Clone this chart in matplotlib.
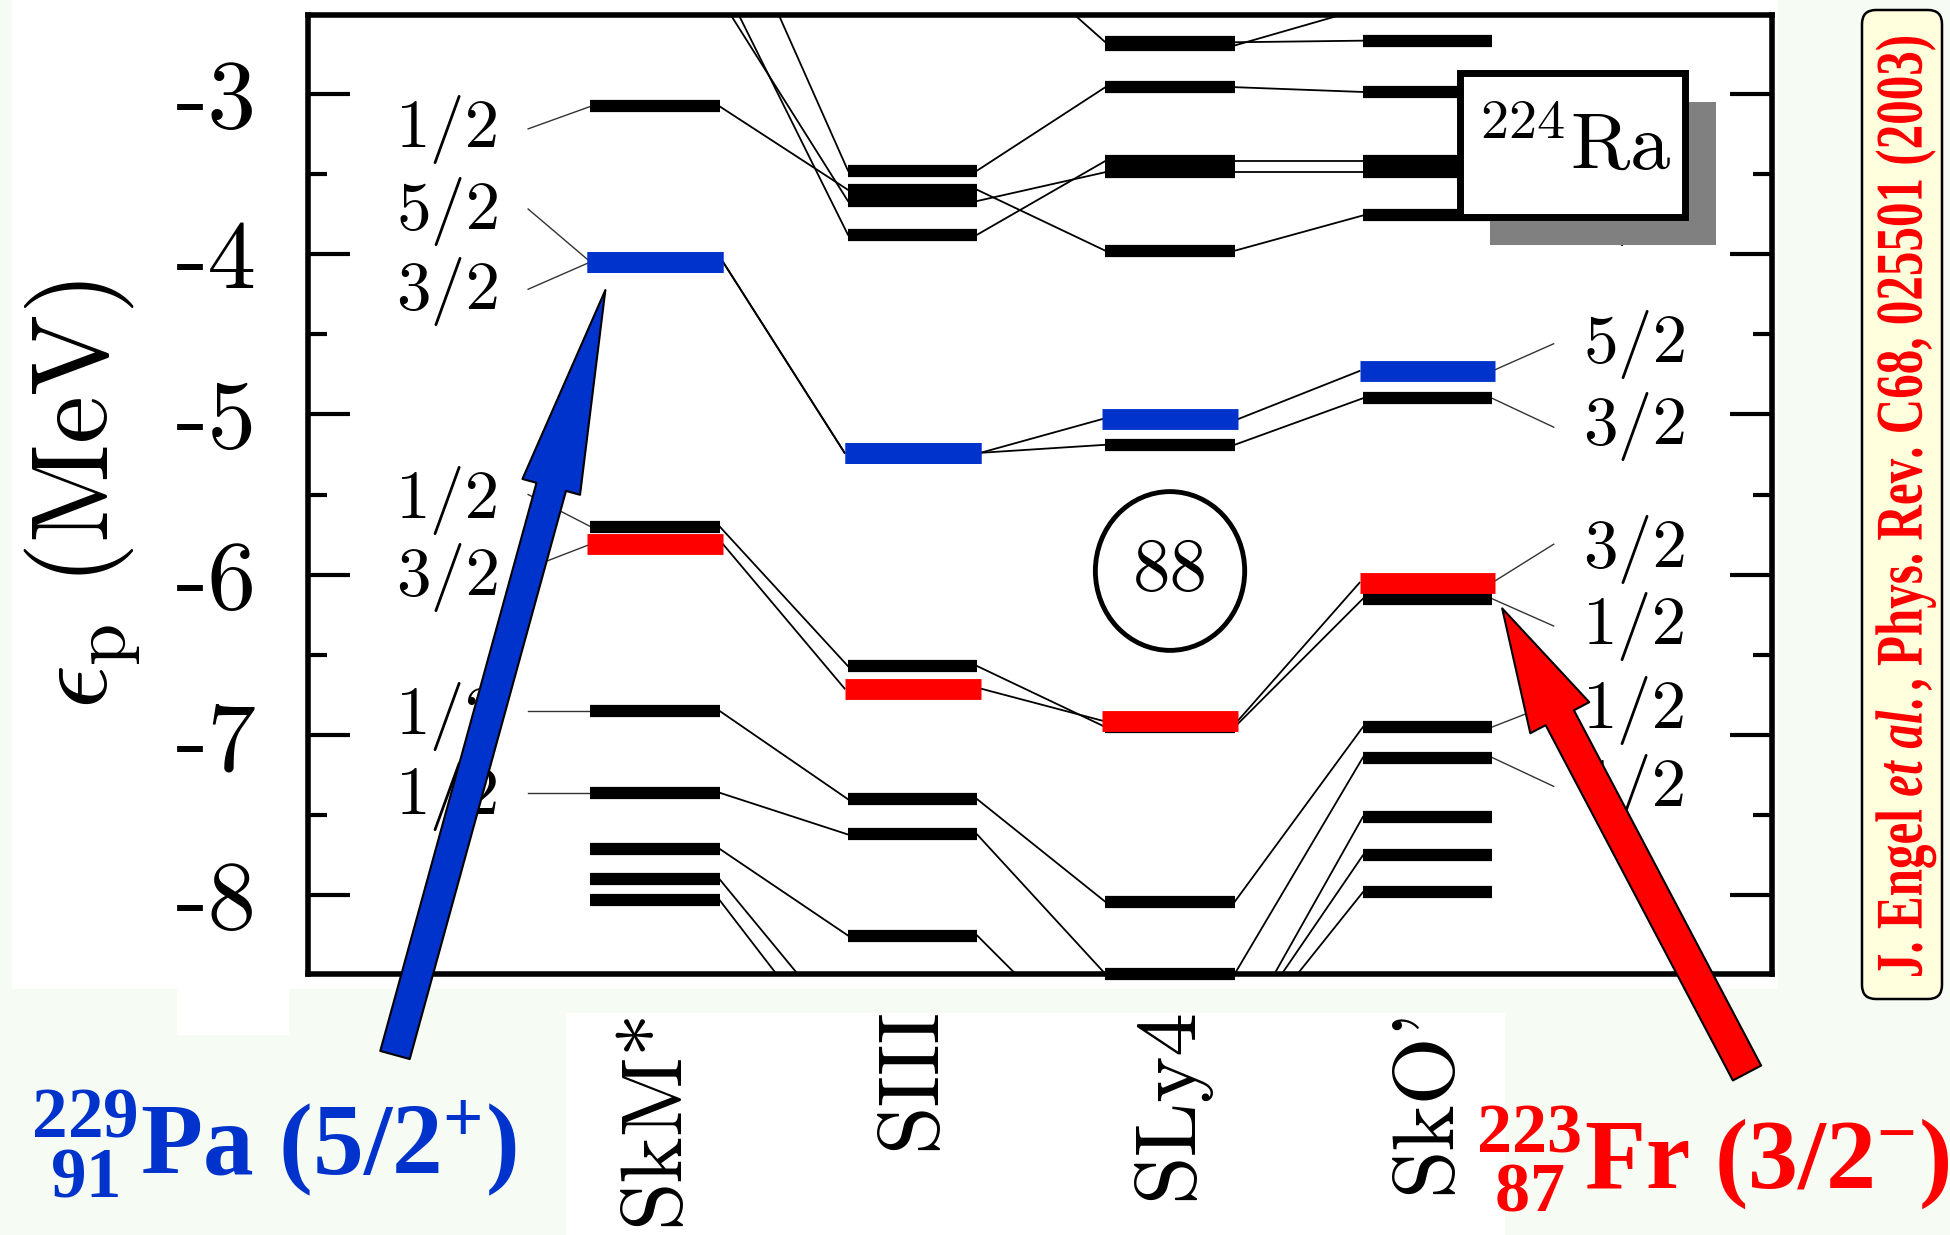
import matplotlib.pyplot as plt
from matplotlib.patches import Rectangle, Ellipse, FancyBboxPatch, PathPatch
from matplotlib.textpath import TextPath
from matplotlib.font_manager import FontProperties
from matplotlib.transforms import Affine2D
from matplotlib.ticker import MultipleLocator

plt.rcParams['mathtext.fontset'] = 'cm'
plt.rcParams['mathtext.rm'] = 'Liberation Serif:bold'
plt.rcParams['mathtext.it'] = 'Liberation Serif:italic:bold'
plt.rcParams['mathtext.bf'] = 'Liberation Serif:bold'
plt.rcParams['axes.unicode_minus'] = False

W, H = 1950, 1235
BLUE, RED = '#0033cc', '#ff0000'

forces = ['SkM*', 'SIII', 'SLy4', "SkO'"]

# proton single-particle levels (MeV), colour key k/b/r
# levels outside the window only feed the connecting lines
skm_e = [-1.68, -2.27, -2.40, -3.08, -4.05, -4.05, -5.70, -5.81, -6.85, -7.36, -7.71, -7.90, -8.03]
skm_c = ['k', 'k', 'k', 'k', 'b', 'b', 'k', 'r', 'k', 'k', 'k', 'k', 'k']
siii_e = [-1.97, -3.48, -3.60, -3.67, -3.88, -5.24, -5.24, -6.57, -6.71, -7.40, -7.62, -8.25, -8.87, -9.07]
siii_c = ['k', 'k', 'k', 'k', 'k', 'b', 'b', 'k', 'r', 'k', 'k', 'k', 'k', 'k']
sly4_e = [-2.70, -2.68, -2.96, -3.42, -3.49, -3.98, -5.03, -5.19, -6.91, -6.95, -8.04, -8.49, -8.93, -8.92, -8.98, -9.05]
sly4_c = ['k', 'k', 'k', 'k', 'k', 'k', 'b', 'k', 'r', 'k', 'k', 'k', 'k', 'k', 'k', 'k']
sko_e = [-2.47, -2.67, -2.99, -3.42, -3.49, -3.76, -4.73, -4.90, -6.05, -6.15, -6.95, -7.14, -7.51, -7.75, -7.98]
sko_c = ['k', 'k', 'k', 'k', 'k', 'k', 'b', 'k', 'r', 'k', 'k', 'k', 'k', 'k', 'k']

# which level joins which in the next column
skm_siii = [(0, 1), (1, 4), (2, 3), (3, 2), (4, 5), (5, 6), (6, 7), (7, 8), (8, 9), (9, 10), (10, 11), (11, 12), (12, 13)]
siii_sly4 = [(0, 1), (1, 2), (2, 5), (3, 4), (4, 3), (5, 6), (6, 7), (7, 9), (8, 8), (9, 10), (10, 11), (11, 15)]
sly4_sko = [(i, i) for i in range(15)]

# spin labels left of SkM* and right of SkO'
left_txt = ['1/2', '5/2', '3/2', '1/2', '3/2', '1/2', '1/2']
left_txt_e = [-3.19, -3.70, -4.20, -5.50, -5.98, -6.85, -7.35]
left_lead_e = [-3.22, -3.72, -4.22, -5.50, -5.96, -6.85, -7.36]
left_bar_e = [-3.08, -4.05, -4.05, -5.70, -5.81, -6.85, -7.36]
right_txt = ['1/2', '5/2', '3/2', '3/2', '1/2', '1/2', '1/2']
right_txt_e = [-3.70, -4.53, -5.04, -5.81, -6.29, -6.81, -7.30]
right_lead_e = [-3.70, -4.56, -5.08, -5.81, -6.32, -6.80, -7.32]
right_bar_e = [-3.76, -4.73, -4.90, -6.05, -6.15, -6.95, -7.14]

ytick_vals = [-3, -4, -5, -6, -7, -8]
ytick_lab = ['-3', '-4', '-5', '-6', '-7', '-8']

levels = [skm_e, siii_e, sly4_e, sko_e]
colours = [skm_c, siii_c, sly4_c, sko_c]
links = [skm_siii, siii_sly4, sly4_sko]

fig = plt.figure(figsize=(W / 100, H / 100), dpi=100, facecolor='#f6fbf3')
px = Affine2D().scale(1 / W, 1 / H) + fig.transFigure  # pixel coords, origin bottom-left

for r in [(12, 246, 1766, 989), (177, 200, 112, 46), (566, 0, 939, 222)]:
    fig.add_artist(Rectangle(r[:2], r[2], r[3], transform=px, fc='white', ec='none', zorder=-5))

ax = fig.add_axes([308 / W, 1 - 974 / H, 1464 / W, 959 / H])
ylo, yhi = -8.49, -2.51
ax.set_xlim(-0.348, 5.338)
ax.set_ylim(ylo, yhi)

hw = {'k': 0.251, 'b': 0.264, 'r': 0.264}
lwb = {'k': 8.8, 'b': 15, 'r': 15}
cmap = {'k': 'black', 'b': BLUE, 'r': RED}

for i, (es, cs) in enumerate(zip(levels, colours)):
    for e, c in zip(es, cs):
        if ylo - 0.01 <= e <= yhi:
            ax.plot([i + 1 - hw[c], i + 1 + hw[c]], [e, e], color=cmap[c], lw=lwb[c],
                    solid_capstyle='butt', zorder=4 if c == 'k' else 5, clip_on=False)

for i, pairs in enumerate(links):
    for a, b in pairs:
        ca, cb = colours[i][a], colours[i + 1][b]
        ax.plot([i + 1 + hw[ca], i + 2 - hw[cb]], [levels[i][a], levels[i + 1][b]],
                color='black', lw=1.3, zorder=3)

for t, te, le, be in zip(left_txt, left_txt_e, left_lead_e, left_bar_e):
    ax.plot([0.507, 1 - hw['k']], [le, be], color='#333333', lw=1.0, zorder=3)
    ax.text(0.40, te - 0.145, t, fontfamily='cmr10', fontsize=50, ha='right', va='baseline')
for t, te, le, be in zip(right_txt, right_txt_e, right_lead_e, right_bar_e):
    ax.plot([4 + hw['k'], 4.49], [be, le], color='#333333', lw=1.0, zorder=3)
    ax.text(4.604, te - 0.145, t, fontfamily='cmr10', fontsize=50, ha='left', va='baseline')

# magic number 88 circle
ax.add_patch(Ellipse((3.0, -5.977), 0.58, 0.99, fill=False, ec='black', lw=3.5, zorder=6))
ax.text(3.0, -5.977, '88', fontfamily='cmr10', fontsize=54, ha='center', va='center', zorder=7)

# 224Ra box with shadow
ax.add_patch(Rectangle((4.242, -3.946), 0.879, 0.892, fc='#808080', ec='none', zorder=8))
ax.add_patch(Rectangle((4.125, -3.77), 0.876, 0.897, fc='white', ec='black', lw=5, zorder=9))
ax.text(4.57, -3.34, r'$^{224}\mathrm{Ra}$', fontsize=58, ha='center', va='center', zorder=10)

ax.set_yticks(ytick_vals, ytick_lab, fontfamily='cmr10', fontsize=70)
ax.yaxis.set_minor_locator(MultipleLocator(0.5))
ax.tick_params(axis='y', which='both', direction='in', left=True, right=True, width=3, pad=37)
ax.tick_params(axis='y', which='major', length=30)
ax.tick_params(axis='y', which='minor', length=14)
ax.set_xticks([1, 2, 3, 4], forces, rotation=90, fontfamily='cmr10', fontsize=63)
ax.tick_params(axis='x', length=0, pad=24)
for s in ax.spines.values():
    s.set_linewidth(4)
ax.set_ylabel(r'$\epsilon_{\rm p}\ (\mathrm{MeV})$', fontsize=78)
ax.yaxis.set_label_coords(-0.113, 0.5)

# arrows to the ground states of the odd neighbours
ax.annotate('', xy=(0.807, -4.225), xytext=(395 / W, 180 / H), textcoords='figure fraction',
            arrowprops=dict(arrowstyle='simple,head_length=147,head_width=43,tail_width=22',
                            mutation_scale=1, fc=BLUE, ec='black', lw=1.5, shrinkA=0, shrinkB=0),
            annotation_clip=False, zorder=20)
ax.annotate('', xy=(4.29, -6.21), xytext=(1747 / W, 162 / H), textcoords='figure fraction',
            arrowprops=dict(arrowstyle='simple,head_length=89,head_width=48,tail_width=23',
                            mutation_scale=1, fc=RED, ec='black', lw=1.5, shrinkA=0, shrinkB=0),
            annotation_clip=False, zorder=20)

fig.text(31 / W, 60 / H, r'$^{229}_{\ 91}$Pa (5/2$^{+}$)', color=BLUE, fontsize=73,
         fontfamily='Liberation Serif', fontweight='bold', math_fontfamily='custom',
         ha='left', va='baseline')
fig.text(1476 / W, 47 / H, r'$^{223}_{\ 87}$Fr (3/2$^{-}$)', color=RED, fontsize=72,
         fontfamily='Liberation Serif', fontweight='bold', math_fontfamily='custom',
         ha='left', va='baseline')

# citation in a rounded box on the right
fig.add_artist(FancyBboxPatch((1862, 236), 80, 989, boxstyle='round,pad=0,rounding_size=14',
                              transform=px, fc='#ffffde', ec='black', lw=1.8, zorder=5))
fp = FontProperties(family='Liberation Serif', weight='bold', math_fontfamily='custom')
cite = TextPath((0, 0), r'J. Engel $\mathit{et\ al.}$, Phys. Rev. C68, 025501 (2003)', size=100, prop=fp)
ext = cite.get_extents()
tr = Affine2D().translate(-ext.x0, 0).scale(939 / ext.width, 44 / 66.0).rotate_deg(90).translate(1922, 259) + px
fig.add_artist(PathPatch(cite, transform=tr, fc=RED, ec='none', zorder=6))

fig.savefig('out.png', dpi=100, facecolor=fig.get_facecolor())
